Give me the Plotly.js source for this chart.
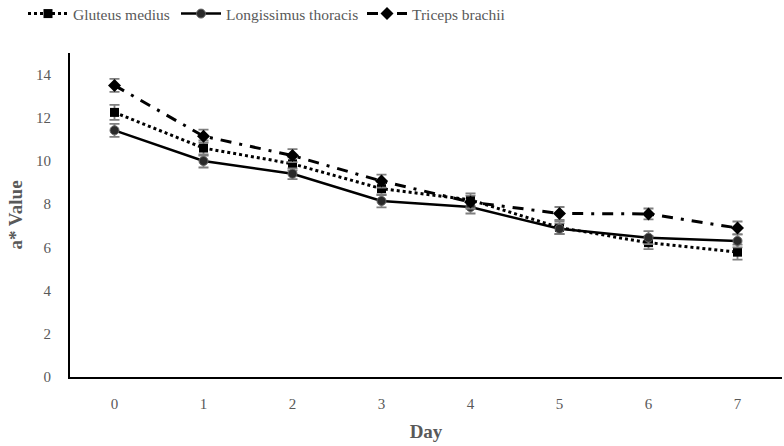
<!DOCTYPE html>
<html>
<head>
<meta charset="utf-8">
<script src="https://cdn.plot.ly/plotly-3.0.1.min.js"></script>
<style>html,body{margin:0;padding:0;background:#fff;}#chart{width:784px;height:446px;}</style>
</head>
<body>
<div id="chart"></div>
<script>
const days = [0, 1, 2, 3, 4, 5, 6, 7];
const dayLabels = ["0", "1", "2", "3", "4", "5", "6", "7"];
const gluteus = [12.25, 10.6, 9.87, 8.72, 8.2, 6.92, 6.22, 5.78];
const gluteusErr = [0.35, 0.35, 0.3, 0.3, 0.3, 0.3, 0.3, 0.35];
const longissimus = [11.42, 10.0, 9.41, 8.15, 7.87, 6.86, 6.45, 6.3];
const longissimusErr = [0.3, 0.3, 0.25, 0.3, 0.3, 0.25, 0.3, 0.3];
const triceps = [13.5, 11.15, 10.25, 9.07, 8.1, 7.57, 7.55, 6.9];
const tricepsErr = [0.3, 0.3, 0.3, 0.3, 0.3, 0.3, 0.25, 0.3];

const errStyle = (arr) => ({type: 'data', array: arr, visible: true, color: '#7f7f7f', thickness: 1.8, width: 5});

const traces = [
  {x: days, y: gluteus, name: 'Gluteus medius', mode: 'lines+markers', type: 'scatter', legend: 'legend',
   line: {color: '#000', width: 3, dash: 'dot'},
   marker: {symbol: 'square', size: 9, color: '#000'},
   error_y: errStyle(gluteusErr)},
  {x: days, y: longissimus, name: 'Longissimus thoracis', mode: 'lines+markers', type: 'scatter', legend: 'legend2',
   line: {color: '#000', width: 2.5},
   marker: {symbol: 'circle', size: 9, color: '#2a2a2a', line: {color: '#666', width: 1}},
   error_y: errStyle(longissimusErr)},
  {x: days, y: triceps, name: 'Triceps brachii', mode: 'lines+markers', type: 'scatter', legend: 'legend3',
   line: {color: '#000', width: 3, dash: '11px,8px,3px,8px'},
   marker: {symbol: 'diamond', size: 10, color: '#000'},
   error_y: errStyle(tricepsErr)}
];

const legBase = (xpx) => ({orientation: 'h', xref: 'container', yref: 'container', x: xpx / 784, y: 1 - 14 / 446,
  xanchor: 'left', yanchor: 'middle', font: {size: 15.5, color: '#595959'}, itemwidth: 40, bgcolor: 'rgba(0,0,0,0)'});

const layout = {
  width: 784, height: 446,
  margin: {l: 70, r: 2, t: 53, b: 69},
  paper_bgcolor: '#fff', plot_bgcolor: '#fff',
  font: {family: '"Liberation Serif", "Times New Roman", serif', color: '#595959'},
  showlegend: true,
  legend: legBase(23),
  legend2: legBase(176),
  legend3: legBase(362),
  xaxis: {
    type: 'linear', range: [-0.5, 7.5], tickvals: days, ticktext: dayLabels,
    showgrid: false, zeroline: false, showline: true, linecolor: '#000', linewidth: 2,
    ticks: '', tickfont: {size: 15, color: '#595959'}, ticklabelstandoff: 12,
    title: {text: '<b>Day</b>', font: {size: 19, color: '#595959'}, standoff: 14}
  },
  yaxis: {
    range: [0, 15], tickvals: [0, 2, 4, 6, 8, 10, 12, 14],
    showgrid: false, zeroline: false, showline: true, linecolor: '#000', linewidth: 2,
    ticks: '', tickfont: {size: 15, color: '#595959'}, ticklabelstandoff: 14,
    title: {text: '<b>a* Value</b>', font: {size: 19, color: '#595959'}, standoff: 8}
  }
};

Plotly.newPlot('chart', traces, layout, {displayModeBar: false, staticPlot: true});
</script>
</body>
</html>
